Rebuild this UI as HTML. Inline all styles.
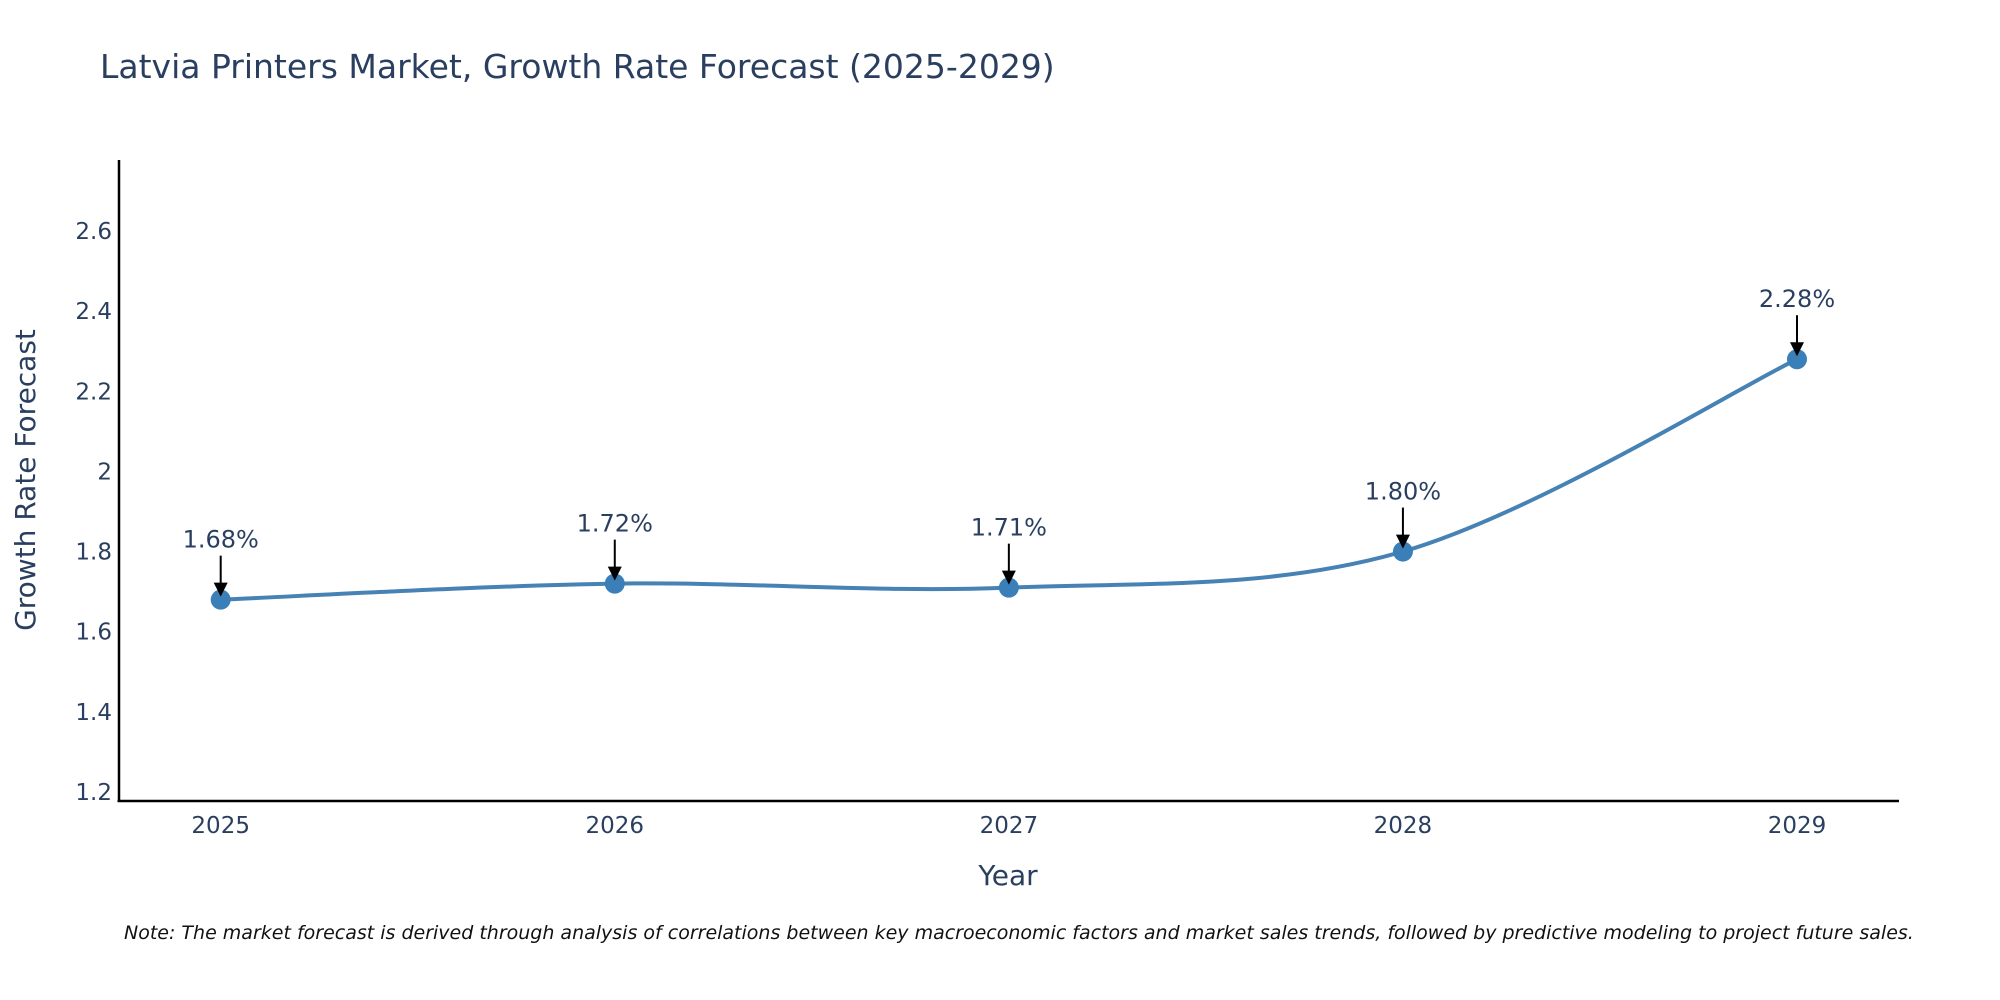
<!DOCTYPE html>
<html><head><meta charset="utf-8"><style>
html,body{margin:0;padding:0;background:#fff;}
svg{display:block;font-family:"DejaVu Sans","Liberation Sans",sans-serif;}
</style></head><body>
<svg id="chart" width="2000" height="1000" viewBox="0 0 2000 1000" xmlns="http://www.w3.org/2000/svg">
<rect width="2000" height="1000" fill="#fff"/>
<text x="100" y="78" font-size="33" fill="#2a3f5f">Latvia Printers Market, Growth Rate Forecast (2025-2029)</text>
<g id="yticks"></g><g id="xticks"></g>
<line x1="119" y1="160" x2="119" y2="802" stroke="#000" stroke-width="2.5"/>
<line x1="117.5" y1="801" x2="1899" y2="801" stroke="#000" stroke-width="2.5"/>
<path id="line" fill="none" stroke="#4682B4" stroke-width="4"/>
<g id="points"></g><g id="annots"></g>
<text x="1008" y="885" font-size="28" fill="#2a3f5f" text-anchor="middle">Year</text>
<text transform="translate(35,480) rotate(-90)" font-size="28" fill="#2a3f5f" text-anchor="middle">Growth Rate Forecast</text>
<text x="124" y="939" font-size="19" font-style="italic" fill="#111">Note: The market forecast is derived through analysis of correlations between key macroeconomic factors and market sales trends, followed by predictive modeling to project future sales.</text>
</svg>
<script>
const years = [2025, 2026, 2027, 2028, 2029];
const values = [1.68, 1.72, 1.71, 1.80, 2.28];
const labels = ["1.68%", "1.72%", "1.71%", "1.80%", "2.28%"];
const yTickValues = [1.2, 1.4, 1.6, 1.8, 2, 2.2, 2.4, 2.6];
const yTickLabels = ["1.2", "1.4", "1.6", "1.8", "2", "2.2", "2.4", "2.6"];

const NS = "http://www.w3.org/2000/svg";
function xS(v){ return 220.7 + (v - 2025) * (1797 - 220.7) / 4; }
function yS(v){ return 792 - (v - 1.2) * (792 - 231) / 1.4; }
function mk(tag, attrs, parent){ const e = document.createElementNS(NS, tag); for (const k in attrs) e.setAttribute(k, attrs[k]); parent.appendChild(e); return e; }

const yt = document.getElementById('yticks');
yTickValues.forEach((v, i) => {
  const t = mk('text', {x: 112, y: yS(v) + 8, 'font-size': 23, fill: '#2a3f5f', 'text-anchor': 'end'}, yt);
  
  
  t.textContent = yTickLabels[i];
});
const xt = document.getElementById('xticks');
years.forEach(y => {
  const t = mk('text', {x: xS(y), y: 833, 'font-size': 23, fill: '#2a3f5f', 'text-anchor': 'middle'}, xt);
  
  
  t.textContent = y;
});

const pts = years.map((y, i) => [xS(y), yS(values[i])]);
let d = 'M' + pts[0][0] + ',' + pts[0][1];
const s = 0.5;
for (let i = 0; i < pts.length - 1; i++) {
  const p0 = pts[i - 1] || pts[i], p1 = pts[i], p2 = pts[i + 1], p3 = pts[i + 2] || pts[i + 1];
  const c1 = [p1[0] + (p2[0] - p0[0]) * s / 3, p1[1] + (p2[1] - p0[1]) * s / 3];
  const c2 = [p2[0] - (p3[0] - p1[0]) * s / 3, p2[1] - (p3[1] - p1[1]) * s / 3];
  d += ' C' + c1.join(',') + ' ' + c2.join(',') + ' ' + p2.join(',');
}
document.getElementById('line').setAttribute('d', d);

const pg = document.getElementById('points');
const ag = document.getElementById('annots');
pts.forEach((p, i) => {
  const c = mk('circle', {cx: p[0], cy: p[1], r: 10, fill: '#3a7fb8'}, pg);
  
  
  const g = mk('g', {}, ag);
  
  
  mk('line', {x1: p[0], y1: p[1] - 44, x2: p[0], y2: p[1] - 14, stroke: '#000', 'stroke-width': 2}, g);
  mk('polygon', {points: (p[0]-7)+','+(p[1]-17)+' '+(p[0]+7)+','+(p[1]-17)+' '+p[0]+','+(p[1]-3), fill: '#000'}, g);
  const t = mk('text', {x: p[0], y: p[1] - 52, 'font-size': 24, fill: '#2a3f5f', 'text-anchor': 'middle'}, g);
  t.textContent = labels[i];
});
</script>
</body></html>
